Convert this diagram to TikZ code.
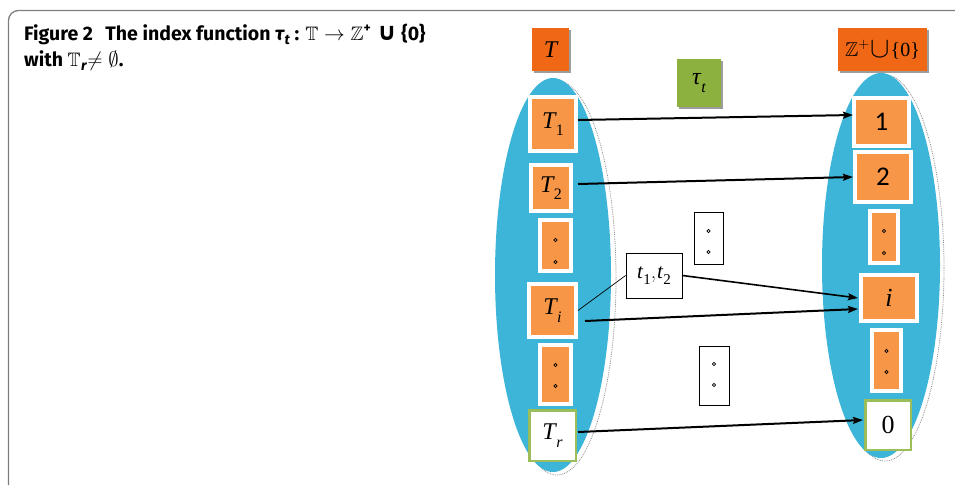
\documentclass[tikz,border=0pt]{standalone}
\usepackage{fontspec}
\usepackage{amsmath}
\usepackage{amssymb}
\usetikzlibrary{arrows.meta,shadows,calc}

\newfontfamily\capfont{Fira Sans}
\newfontfamily\symfont{DejaVu Sans}
\newfontfamily\romfont{Liberation Serif}
\newfontfamily\digfont{Carlito}

\definecolor{framegray}{RGB}{125,125,125}
\definecolor{setblue}{RGB}{61,181,217}
\definecolor{itemorange}{RGB}{247,150,70}
\definecolor{headorange}{RGB}{240,104,22}
\definecolor{mapgreen}{RGB}{141,177,63}
\definecolor{zeroborder}{RGB}{155,190,90}

% italic letter with a lowered index
\newcommand{\idx}[3]{{\romfont\itshape #1}\kern0.5pt\raisebox{-0.32em}{\romfont\fontsize{#3}{#3}\selectfont #2}}
% lowered index in the caption font
\newcommand{\capsub}[1]{\raisebox{-0.22em}{\fontsize{14}{14}\selectfont #1}}

\tikzset{
  itembox/.style={rectangle, fill=itemorange, draw=white, line width=4pt, inner sep=0pt,
    drop shadow={shadow xshift=1pt, shadow yshift=-1pt, fill=black!30, opacity=0.6}},
  endbox/.style={rectangle, fill=white, draw=zeroborder, line width=2.5pt, inner sep=0pt},
  headbox/.style={rectangle, fill=headorange, inner sep=0pt,
    drop shadow={shadow xshift=2pt, shadow yshift=-2pt, fill=black!55, opacity=0.7}},
  mapbox/.style={rectangle, fill=mapgreen, inner sep=0pt,
    drop shadow={shadow xshift=2pt, shadow yshift=-2pt, fill=black!55, opacity=0.7}},
  plainbox/.style={rectangle, fill=white, draw=black, line width=0.8pt, inner sep=0pt},
  dotmark/.style={draw=black, line width=0.6pt},
  maparrow/.style={draw=black, line width=2pt, -{Stealth[length=10pt,width=7pt,inset=1.5pt]}},
  thinlink/.style={draw=black, line width=0.7pt},
  setshape/.style={fill=setblue},
  setoutline/.style={draw=black!45, densely dotted, line width=0.8pt},
  captext/.style={anchor=base west, inner sep=0pt, font=\capfont\bfseries\fontsize{19.5}{23}\selectfont},
}

\begin{document}
\begin{tikzpicture}[x=1pt,y=-1pt]
\useasboundingbox (0,0) rectangle (955,485);

% caption frame
\draw[framegray, line width=1.3pt, rounded corners=10pt] (8.5,485) -- (8.5,10.5) -- (955,10.5);

% caption
\node[captext] (cap1) at (24,40) {Figure 2\kern0.4em\ The index function {\itshape τ\kern0.5pt\capsub{t}} : \(\mathbb{T}\rightarrow\mathbb{Z}\)\textsuperscript{+}\kern1pt\ \raisebox{-0.5pt}{\scalebox{1.25}{\symfont\bfseries ∪}}\ \{0\}};
\node[captext] (cap2) at (24,66) {with \(\mathbb{T}\)\kern0.5pt{\itshape\capsub{r}}\kern1pt\(\neq\emptyset\).};

% the two sets
\draw[setoutline] (557,278) ellipse [x radius=59pt, y radius=197pt];
\fill[setshape] (553,275) ellipse [x radius=58pt, y radius=197pt];
\draw[setoutline] (885,268) ellipse [x radius=59pt, y radius=193pt];
\fill[setshape] (881,265.5) ellipse [x radius=59pt, y radius=192.5pt];

% headers
\node[headbox, minimum width=37pt, minimum height=43pt] (hT) at (550.5,49.5)
  {\fontsize{24}{24}\selectfont\romfont\itshape T};
\node[headbox, minimum width=89pt, minimum height=43pt] (hZ) at (882.5,49.5)
  {\fontsize{20}{20}\selectfont\(\mathbb{Z}^{+}\)\kern1pt\raisebox{-1pt}{\scalebox{1.4}{\(\cup\)}}\kern0.5pt{\romfont\{0\}}};
\node[mapbox, minimum width=44pt, minimum height=48pt] (tau) at (699,83)
  {\fontsize{24}{24}\selectfont\idx{τ}{\itshape t}{16}};

% elements of T
\node[itembox, minimum width=46pt, minimum height=54pt] (T1) at (553,124)
  {\fontsize{24}{24}\selectfont\idx{T}{1}{16}};
\node[itembox, minimum width=40pt, minimum height=46pt] (T2) at (551,188)
  {\fontsize{24}{24}\selectfont\idx{T}{2}{16}};
\node[itembox, minimum width=31pt, minimum height=51pt] (dL1) at (555.5,245.5) {};
\node[itembox, minimum width=47pt, minimum height=53pt] (Ti) at (552.5,310.5)
  {\fontsize{24}{24}\selectfont\idx{T}{\itshape i}{16}};
\node[itembox, minimum width=31pt, minimum height=59pt] (dL2) at (555.5,374.5) {};
\node[endbox, minimum width=46.5pt, minimum height=50.5pt] (Tr) at (552.5,435.5)
  {\fontsize{24}{24}\selectfont\idx{T}{\itshape r}{16}};

% elements of Z+ u {0}
\node[itembox, minimum width=55pt, minimum height=48pt] (one) at (881.5,122)
  {\fontsize{27}{27}\selectfont\digfont 1};
\node[itembox, minimum width=56pt, minimum height=50pt] (two) at (883,177)
  {\fontsize{27}{27}\selectfont\digfont 2};
\node[itembox, minimum width=28pt, minimum height=52pt] (dR1) at (884,237) {};
\node[itembox, minimum width=56pt, minimum height=46pt] (ii) at (889,298)
  {\fontsize{26}{26}\selectfont\romfont\itshape i};
\node[itembox, minimum width=29pt, minimum height=61pt] (dR2) at (886.5,360.5) {};
\node[endbox, minimum width=45.5pt, minimum height=49.5pt] (zero) at (888,425)
  {\fontsize{26}{26}\selectfont\romfont 0};

% middle boxes
\node[plainbox, minimum width=56pt, minimum height=45pt] (tt) at (654,275.5)
  {\fontsize{21}{21}\selectfont\idx{t}{1}{15},\kern1pt\idx{t}{2}{15}};
\node[plainbox, minimum width=29pt, minimum height=52pt] (dW1) at (708.5,238) {};
\node[plainbox, minimum width=30pt, minimum height=59pt] (dW2) at (714,375.5) {};

% vertical ellipsis marks
\draw[dotmark] ($(dL1.center)+(0,-5.5)$) circle[radius=1.6pt] ($(dL1.center)+(0,16.5)$) circle[radius=1.6pt];
\draw[dotmark] ($(dL2.center)+(0,-9.5)$) circle[radius=1.6pt] ($(dL2.center)+(0,11.5)$) circle[radius=1.6pt];
\draw[dotmark] ($(dR1.center)+(0,-6)$) circle[radius=1.6pt] ($(dR1.center)+(0,16)$) circle[radius=1.6pt];
\draw[dotmark] ($(dR2.center)+(0,-9.5)$) circle[radius=1.6pt] ($(dR2.center)+(0,11.5)$) circle[radius=1.6pt];
\draw[dotmark] ($(dW1.center)+(0,-7)$) circle[radius=1.6pt] ($(dW1.center)+(0,14)$) circle[radius=1.6pt];
\draw[dotmark] ($(dW2.center)+(0,-11.5)$) circle[radius=1.6pt] ($(dW2.center)+(0,9.5)$) circle[radius=1.6pt];

% the map
\draw[maparrow] ($(T1.east)+(0,-4)$) -- ($(one.west)+(1,-7)$);
\draw[maparrow] ($(T2.east)+(5,-4)$) -- (two.west);
\draw[maparrow, line width=1.6pt] (tt.east) -- ($(ii.west)+(-1,0)$);
\draw[maparrow] ($(Ti.east)+(7,10.5)$) -- ($(ii.west)+(-1,11)$);
\draw[maparrow] ($(Tr.east)+(1,-3.5)$) -- ($(zero.west)+(-1,-5)$);
\draw[thinlink] (Ti.east) -- (tt.west);
\end{tikzpicture}
\end{document}
